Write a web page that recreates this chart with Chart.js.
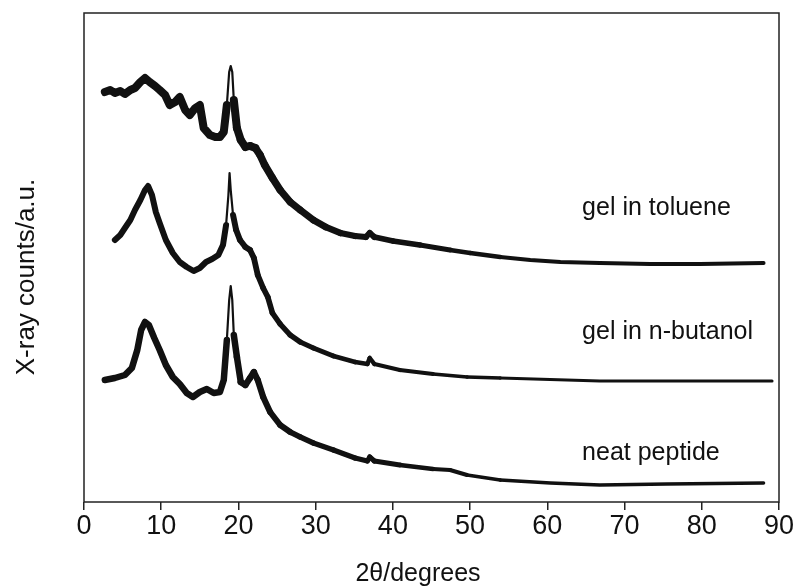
<!DOCTYPE html>
<html>
<head>
<meta charset="utf-8">
<script src="https://cdn.jsdelivr.net/npm/chart.js@4.4.1/dist/chart.umd.min.js"></script>
<style>
  html, body { margin: 0; padding: 0; background: #fff; }
  #wrap { width: 797px; height: 588px; }
</style>
</head>
<body>
<div id="wrap"><canvas id="xrd" width="797" height="588"></canvas></div>
<script>
// 2theta (degrees) and counts (arbitrary, stacked offsets)
const tolueneX = [2.7, 3.4, 4.0, 4.7, 5.3, 6.0, 6.6, 7.3, 7.9, 8.5, 9.2, 9.8, 10.5, 11.1, 11.8, 12.4, 13.1, 13.7, 14.4, 15.0,
    15.5, 16.3, 17.0, 17.6, 18.1, 18.5, 18.8, 19.0, 19.2, 19.4, 19.8, 20.3, 20.9, 21.5, 22.2, 22.8, 23.4, 24.4, 25.4, 26.7,
    28.0, 29.7, 31.3, 33.2, 35.1, 36.5, 37.0, 37.6, 40.0, 43.5, 47.4, 50.0, 53.9, 57.8, 61.7, 66.8, 73.3, 79.8, 88.0];
const tolueneY = [410, 412, 409, 411, 408, 412, 414, 420, 424, 420, 416, 412, 407, 397, 400, 405, 392, 387, 394, 397,
    374, 367, 365, 365, 370, 397, 430, 436, 430, 402, 374, 362, 355, 356, 354, 347, 337, 324, 312, 300,
    292, 282, 275, 269, 266, 265, 269, 265, 261, 257, 252, 249, 245, 242, 240, 239, 238, 238, 239];

const butanolX = [4.0, 4.7, 5.3, 6.0, 6.6, 7.3, 7.9, 8.3, 8.8, 9.3, 9.8, 10.6, 11.5, 12.4, 13.3, 14.2, 15.0, 15.8, 16.6, 17.4,
    18.0, 18.4, 18.7, 18.85, 19.0, 19.3, 19.7, 20.2, 20.9, 21.5, 22.0, 22.5, 23.2, 23.8, 24.4, 25.4, 26.7, 28.0, 29.7, 32.3,
    35.1, 36.7, 37.0, 37.6, 40.9, 45.2, 49.6, 53.9, 58.2, 66.8, 75.5, 89.1];
const butanolY = [262, 267, 274, 282, 292, 302, 312, 316, 307, 290, 279, 262, 249, 240, 235, 231, 234, 240, 243, 247,
    257, 277, 307, 329, 312, 287, 272, 262, 255, 252, 244, 227, 214, 205, 189, 178, 167, 160, 154, 146,
    140, 138, 144, 138, 132, 128, 125, 124, 123, 121, 121, 121];

const neatX = [2.7, 4.0, 5.3, 6.2, 6.9, 7.4, 7.9, 8.4, 9.1, 9.8, 10.6, 11.5, 12.4, 13.3, 14.1, 15.0, 15.9, 16.8, 17.6, 18.1,
    18.5, 18.8, 19.0, 19.2, 19.4, 19.8, 20.3, 20.9, 21.5, 22.0, 22.5, 23.2, 24.1, 25.4, 26.7, 28.0, 29.7, 32.3, 35.1, 36.7,
    37.0, 37.6, 40.9, 45.2, 47.4, 49.6, 53.9, 60.4, 66.8, 75.5, 88.0];
const neatY = [122, 124, 127, 134, 152, 172, 180, 177, 164, 152, 137, 125, 118, 109, 105, 110, 113, 109, 110, 122,
    162, 202, 216, 202, 167, 145, 120, 117, 124, 130, 122, 105, 90, 77, 70, 65, 59, 52, 44, 41,
    45, 41, 37, 33, 32, 27, 22, 19, 17, 18, 19];

const seriesNames = ["gel in toluene", "gel in n-butanol", "neat peptide"];
const xTicks = [0, 10, 20, 30, 40, 50, 60, 70, 80, 90];
const xTitle = "2θ/degrees";
const yTitle = "X-ray counts/a.u.";

const FONT = "'Liberation Sans', Arial, Helvetica, sans-serif";
const NARROW = "'Liberation Sans Narrow', 'Arial Narrow', " + FONT;

const toPoints = (xs, ys) => xs.map((x, i) => ({ x: x, y: ys[i] }));

// noise band: thick at low angle, thin on the sharp peak, thinning out towards high angle
const bandWidth = (base, floor) => (ctx) => {
    const x = (ctx.p0.parsed.x + ctx.p1.parsed.x) / 2;
    if (x >= 18.4 && x < 19.5) return 2.2;
    if (x < 18.4) return base;
    const f = Math.max(0, Math.min(1, (55 - x) / (55 - 19.5)));
    return floor + (base - floor) * f;
};

const makeSet = (label, xs, ys, base, floor) => ({
    label, data: toPoints(xs, ys),
    borderColor: "#111", backgroundColor: "#111",
    borderWidth: 3, pointRadius: 0, tension: 0,
    borderJoinStyle: "round", borderCapStyle: "round",
    segment: { borderWidth: bandWidth(base, floor) }
});

// frame round the plot, axis titles and text labels next to each trace
const frameAndLabels = {
    id: "frameAndLabels",
    afterDatasetsDraw(chart) {
        const { ctx, chartArea: a, scales } = chart;
        ctx.save();
        ctx.strokeStyle = "#222";
        ctx.lineWidth = 1.5;
        ctx.strokeRect(a.left, a.top, a.right - a.left, a.bottom - a.top);
        ctx.fillStyle = "#111";
        ctx.font = "25px " + FONT;
        ctx.textBaseline = "middle";
        const labelY = [294, 170, 49];
        seriesNames.forEach((name, i) => {
            ctx.fillText(name, scales.x.getPixelForValue(64.5), scales.y.getPixelForValue(labelY[i]));
        });
        // axis titles
        ctx.textAlign = "center";
        ctx.fillText(xTitle, 418, 574);
        ctx.font = "26px " + FONT;
        ctx.translate(27, 277);
        ctx.rotate(-Math.PI / 2);
        ctx.fillText(yTitle, 0, 0);
        ctx.restore();
    }
};

new Chart(document.getElementById("xrd").getContext("2d"), {
    type: "line",
    data: {
        datasets: [
            makeSet(seriesNames[0], tolueneX, tolueneY, 8, 4),
            makeSet(seriesNames[1], butanolX, butanolY, 6, 3),
            makeSet(seriesNames[2], neatX, neatY, 6.5, 3.5)
        ]
    },
    options: {
        responsive: false,
        animation: false,
        layout: { padding: { left: 0, right: 18, top: 13, bottom: 0 } },
        plugins: { legend: { display: false }, tooltip: { enabled: false } },
        scales: {
            x: {
                type: "linear", min: 0, max: 90,
                afterBuildTicks: (scale) => { scale.ticks = xTicks.map(v => ({ value: v })); },
                afterFit: (scale) => { scale.height = 86; },
                grid: { display: true, drawOnChartArea: false, drawTicks: true, tickLength: 8, color: "#222", lineWidth: 1.5 },
                border: { display: false },
                ticks: { color: "#111", font: { family: NARROW, size: 27 }, padding: 0, maxRotation: 0 },
                title: { display: false }
            },
            y: {
                min: 0, max: 489,
                afterFit: (scale) => { scale.width = 84; },
                grid: { display: false },
                border: { display: false },
                ticks: { display: false },
                title: { display: false }
            }
        }
    },
    plugins: [frameAndLabels]
});
</script>
</body>
</html>
